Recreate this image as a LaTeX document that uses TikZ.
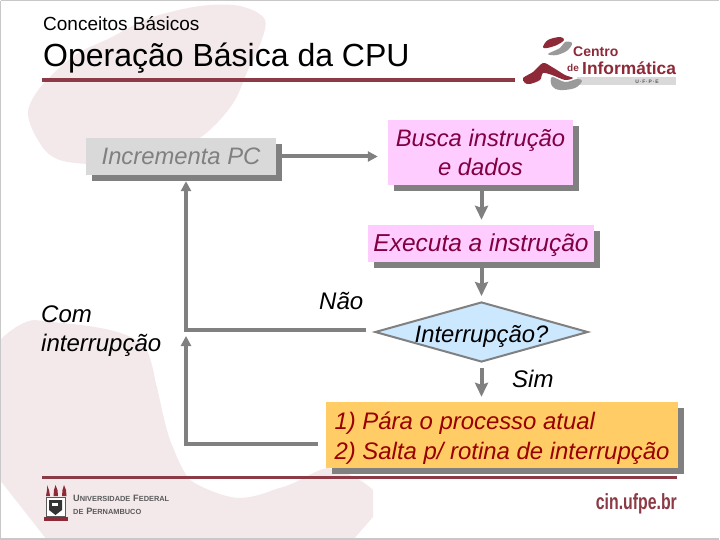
\documentclass[tikz,border=0pt]{standalone}
\usepackage{fontspec}
\setmainfont{Liberation Sans}
\usetikzlibrary{arrows.meta,shadows,shapes.geometric}
\definecolor{blobpink}{HTML}{F3E9EB}
\definecolor{rulered}{HTML}{8C3A45}
\definecolor{logored}{HTML}{8E2A38}
\definecolor{linegray}{HTML}{808080}
\definecolor{framegray}{HTML}{C8C8C8}
\definecolor{boxpink}{HTML}{FFCCFF}
\definecolor{boxgray}{HTML}{D9D9D9}
\definecolor{boxblue}{HTML}{CCE8FF}
\definecolor{boxorange}{HTML}{FFCC66}
\definecolor{textwine}{HTML}{800040}
\definecolor{textred}{HTML}{990000}
\definecolor{unigray}{HTML}{5A5A5A}
\tikzset{
  flowbox/.style={rectangle,inner sep=0pt,font=\fontsize{23.8}{29.5}\selectfont\itshape,align=center,
    drop shadow={shadow xshift=6pt,shadow yshift=-6pt,opacity=1,fill=linegray}},
  label/.style={inner sep=0pt,font=\fontsize{24}{29}\selectfont\itshape,anchor=base west,align=left},
  flowline/.style={draw=linegray,line width=4pt},
  bigarrow/.style={flowline,-{Stealth[inset=2pt,length=14pt,width=13pt]}},
  smallarrow/.style={flowline,-{Triangle[length=10pt,width=10pt]}},
}
\newcommand{\unicap}[2]{{\fontsize{9.2}{10}\selectfont #1}{\fontsize{7.4}{10}\selectfont #2}}
\begin{document}
\begin{tikzpicture}[x=1pt,y=-1pt]
\useasboundingbox (0,0) rectangle (720,540);
\fill[white] (0,0) rectangle (720,540);
% background blobs
\fill[blobpink] plot[smooth cycle,tension=.55] coordinates {(28,115)(32,100)(45,82)(75,55)(110,38)(150,18)(200,6)(240,6)(265,20)(258,50)(248,70)(235,100)(215,125)(190,143)(130,163)(75,163)(50,155)(35,135)};
\fill[blobpink] (0,340) .. controls (10,330) and (25,320) .. (35,320) .. controls (70,325) and (130,325) .. (147,350) .. controls (155,370) and (155,385) .. (157,387) .. controls (162,410) and (165,425) .. (170,440) .. controls (178,460) and (183,472) .. (190,480) .. controls (200,487) and (225,498) .. (240,498) .. controls (260,497) and (270,490) .. (283,487) .. controls (300,482) and (315,470) .. (327,468) .. controls (345,470) and (365,482) .. (373,490) -- (373,517) -- (353,540) -- (47,540) -- (0,480) -- cycle;
% frame
\draw[framegray,line width=1.5pt] (0.7,0.7) -- (719.3,0.7);
\draw[framegray,line width=1.5pt] (0.7,0.7) -- (0.7,538.8) -- (719.3,538.8);
% titles
\node[inner sep=0pt,anchor=base west,font=\fontsize{19}{21}\selectfont] (sub) at (43,31) {Conceitos Básicos};
\node[inner sep=0pt,anchor=base west,font=\fontsize{32}{34}\selectfont] (title) at (43,67) {Operação Básica da CPU};
% rules
\coordinate (ruleAl) at (42,80); \coordinate (ruleAr) at (515,80);
\coordinate (ruleBl) at (42,477); \coordinate (ruleBr) at (677,477);
\draw[rulered,line width=3.5pt] (ruleAl) -- (ruleAr);
\draw[rulered,line width=3pt] (ruleBl) -- (ruleBr);
% CIn logo
\fill[logored] plot[smooth cycle,tension=.6] coordinates {(543,47)(548,40)(560,37)(564,40)(557,45)(547,48)};
\fill[linegray!80] plot[smooth cycle,tension=.6] coordinates {(548,54)(560,48)(565,42)(572,43)(568,50)(557,55)};
\fill[boxgray] (577,77) rectangle (676,85);
\fill[linegray!80] plot[smooth cycle,tension=.6] coordinates {(552,77)(565,82)(577,79)(582,81)(575,88)(560,90)(552,86)};
\fill[logored] plot[smooth cycle,tension=.5] coordinates {(523,78)(533,72)(543,63)(552,67)(565,75)(573,78)(565,80)(552,75)(543,73)(540,80)(530,84)(525,83)};
\node[inner sep=0pt,anchor=base west,text=logored,font=\fontsize{14}{16}\bfseries\selectfont] (centro) at (573,57) {Centro};
\node[inner sep=0pt,anchor=base west,text=logored,font=\fontsize{10}{12}\bfseries\selectfont] (de) at (567,72) {de};
\node[inner sep=0pt,anchor=base west,text=logored,font=\fontsize{17.4}{20}\bfseries\selectfont] (inf) at (582,74.5) {Informática};
\node[inner sep=0pt,anchor=center,text=unigray,font=\fontsize{5}{6}\bfseries\selectfont] (ufpe) at (647,82) {U\,·\,F\,·\,P\,·\,E};
% UFPE crest
\fill[logored] (44,517) rectangle (68,521);
\fill[white,draw=unigray,line width=1pt] (46,497) rectangle (65,516);
\fill[black!80] (49,500) -- (62,500) -- (62,510) -- (55.5,515) -- (49,510) -- cycle;
\fill[white] (52,503) rectangle (58,506);
\fill[logored] (47,485) -- (49,490) -- (50,496) -- (46,496) -- (47,490) -- cycle;
\fill[logored] (55.5,485) -- (57.5,490) -- (58,496) -- (53.5,496) -- (54,490) -- cycle;
\fill[logored] (64,485) -- (66,490) -- (66.5,496) -- (62,496) -- (62.5,490) -- cycle;
\node[inner sep=0pt,anchor=base west,text=unigray,font=\bfseries] (uniA) at (73,501) {\unicap{U}{NIVERSIDADE} \unicap{F}{EDERAL}};
\node[inner sep=0pt,anchor=base west,text=unigray,font=\bfseries] (uniB) at (73,514) {\unicap{}{DE} \unicap{P}{ERNAMBUCO}};
% cin.ufpe.br
\node[inner sep=0pt,anchor=base east,text=rulered,xscale=.72,font=\fontsize{22}{24}\bfseries\selectfont] (cin) at (677,509) {cin.ufpe.br};
% flow boxes
\node[flowbox,fill=boxgray,text=linegray,minimum width=190pt,minimum height=37pt] (inc) at (181,156.5) {Incrementa PC};
\node[flowbox,fill=boxpink,text=textwine,minimum width=185pt,minimum height=65pt] (busca) at (480.5,152.5) {Busca instrução\\e dados};
\node[flowbox,fill=boxpink,text=textwine,minimum width=226pt,minimum height=37pt,font=\fontsize{24.5}{29.5}\selectfont\itshape] (exec) at (481,243.5) {\rule{0pt}{22pt}Executa a instrução};
\node[diamond,aspect=3.55,draw=linegray,line width=2pt,fill=boxblue,inner sep=0pt,minimum width=213pt,minimum height=60pt,font=\fontsize{23.8}{26}\selectfont\itshape] (dec) at (481.5,332) {\raisebox{0pt}[20pt][0pt]{Interrupção?}};
\node[flowbox,fill=boxorange,text=textred,minimum width=352pt,minimum height=66pt,align=left,font=\fontsize{23.9}{29.5}\selectfont\itshape] (acao) at (502,435) {\rule{0pt}{24pt}1) Pára o processo atual\\2) Salta p/ rotina de interrupção};
% free labels
\node[label] (com) at (41,322) {Com};
\node[label] (intr) at (41,351) {interrupção};
\node[label] (nao) at (319,309) {Não};
\node[label] (sim) at (512,387) {Sim};
% connectors
\coordinate (corA) at (186,330);
\coordinate (corB) at (186,444);
\coordinate (naoEnd) at (366,330);
\coordinate (acaoEnd) at (318,444);
\draw[smallarrow] ([xshift=6pt]inc.east) -- ([xshift=-10pt]inc.east -| busca.west);
\draw[bigarrow] ([yshift=-6pt]busca.south -| dec.north) -- ([yshift=5pt]exec.north -| dec.north);
\draw[bigarrow] ([yshift=-6pt]exec.south -| dec.north) -- ([yshift=5pt]dec.north);
\draw[bigarrow] ([yshift=-5pt]dec.south) -- ([yshift=5pt]acao.north -| dec.south);
\draw[smallarrow,line join=miter] (naoEnd) -- (corA) -- ([yshift=-6pt]corA |- inc.south);
\draw[smallarrow,line join=miter] (acaoEnd) -- (corB) -- ([yshift=-6pt]corA);
\end{tikzpicture}
\end{document}
